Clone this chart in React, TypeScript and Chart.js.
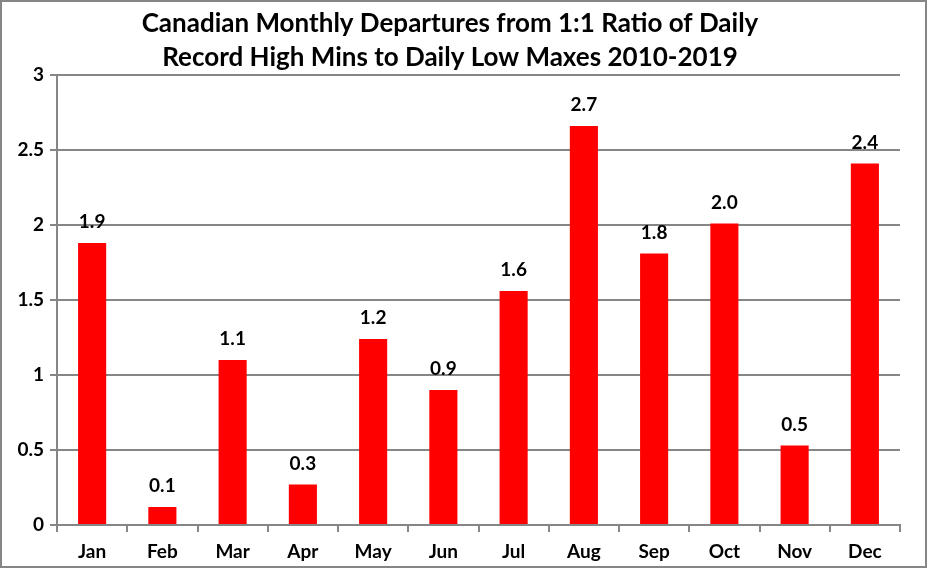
import React, { useEffect, useRef } from "react";
import { Chart, registerables } from "chart.js";

Chart.register(...registerables);

const months = ["Jan", "Feb", "Mar", "Apr", "May", "Jun", "Jul", "Aug", "Sep", "Oct", "Nov", "Dec"];
const departures = [1.88, 0.12, 1.1, 0.27, 1.24, 0.9, 1.56, 2.66, 1.81, 2.01, 0.53, 2.41];
const titleLines = [
  "Canadian Monthly Departures from 1:1 Ratio of Daily",
  "Record High Mins to Daily Low Maxes 2010-2019",
];
const yTicks = [0, 0.5, 1, 1.5, 2, 2.5, 3];

const FONT = "Lato";
const GRID = "#868686";

export default function App() {
  const ref = useRef<HTMLCanvasElement | null>(null);

  useEffect(() => {
    document.body.style.margin = "0";
    const canvas = ref.current!;
    const framePlugin = {
      id: "frame",
      beforeDraw(chart: any) {
        const c = chart.ctx;
        c.save();
        c.fillStyle = "#ffffff";
        c.fillRect(0, 0, chart.width, chart.height);
        c.strokeStyle = GRID;
        c.lineWidth = 2;
        c.strokeRect(1, 1, chart.width - 2, chart.height - 2);
        c.restore();
      },
    };
    const labelPlugin = {
      id: "barLabels",
      afterDatasetsDraw(chart: any) {
        const c = chart.ctx;
        const meta = chart.getDatasetMeta(0);
        c.save();
        c.fillStyle = "#000000";
        c.font = `bold 19px ${FONT}`;
        c.textAlign = "center";
        c.textBaseline = "middle";
        meta.data.forEach((bar: any, i: number) => {
          c.fillText(departures[i].toFixed(1), bar.x, bar.y - 21);
        });
        c.restore();
      },
    };
    const chart = new Chart(canvas, {
      type: "bar",
      data: {
        labels: months,
        datasets: [
          {
            data: departures,
            backgroundColor: "#ff0000",
            borderWidth: 0,
            categoryPercentage: 1,
            barPercentage: 0.4,
          },
        ],
      },
      options: {
        responsive: false,
        animation: false,
        devicePixelRatio: 1,
        layout: { padding: { left: 0, right: 27, top: 0, bottom: 0 } },
        plugins: {
          legend: { display: false },
          tooltip: { enabled: false },
          title: {
            display: true,
            text: titleLines,
            color: "#000000",
            font: { family: FONT, size: 26, weight: "bold", lineHeight: 34 / 26 },
            padding: { top: 7, bottom: 0 },
          },
        },
        scales: {
          x: {
            offset: true,
            grid: {
              display: true,
              offset: true,
              drawOnChartArea: false,
              drawTicks: true,
              tickLength: 7,
              color: GRID,
              lineWidth: 2,
            },
            border: { display: true, color: GRID, width: 2 },
            ticks: {
              color: "#000000",
              font: { family: FONT, size: 19, weight: "bold" },
              padding: 8,
            },
            afterFit(scale: any) {
              scale.height = 568 - 525;
            },
          },
          y: {
            min: 0,
            max: 3,
            afterBuildTicks(scale: any) {
              scale.ticks = yTicks.map((v) => ({ value: v }));
            },
            grid: {
              color: GRID,
              lineWidth: 2,
              tickLength: 7,
              drawTicks: true,
            },
            border: { display: true, color: GRID, width: 2 },
            ticks: {
              color: "#000000",
              font: { family: FONT, size: 19, weight: "bold" },
              padding: 6,
              callback: (v: any) => String(v),
            },
            afterFit(scale: any) {
              scale.width = 57;
            },
          },
        },
      },
      plugins: [framePlugin, labelPlugin],
    });
    return () => chart.destroy();
  }, []);

  return (
    <div style={{ width: 927, height: 568 }}>
      <canvas ref={ref} width={927} height={568} style={{ display: "block" }} />
    </div>
  );
}
